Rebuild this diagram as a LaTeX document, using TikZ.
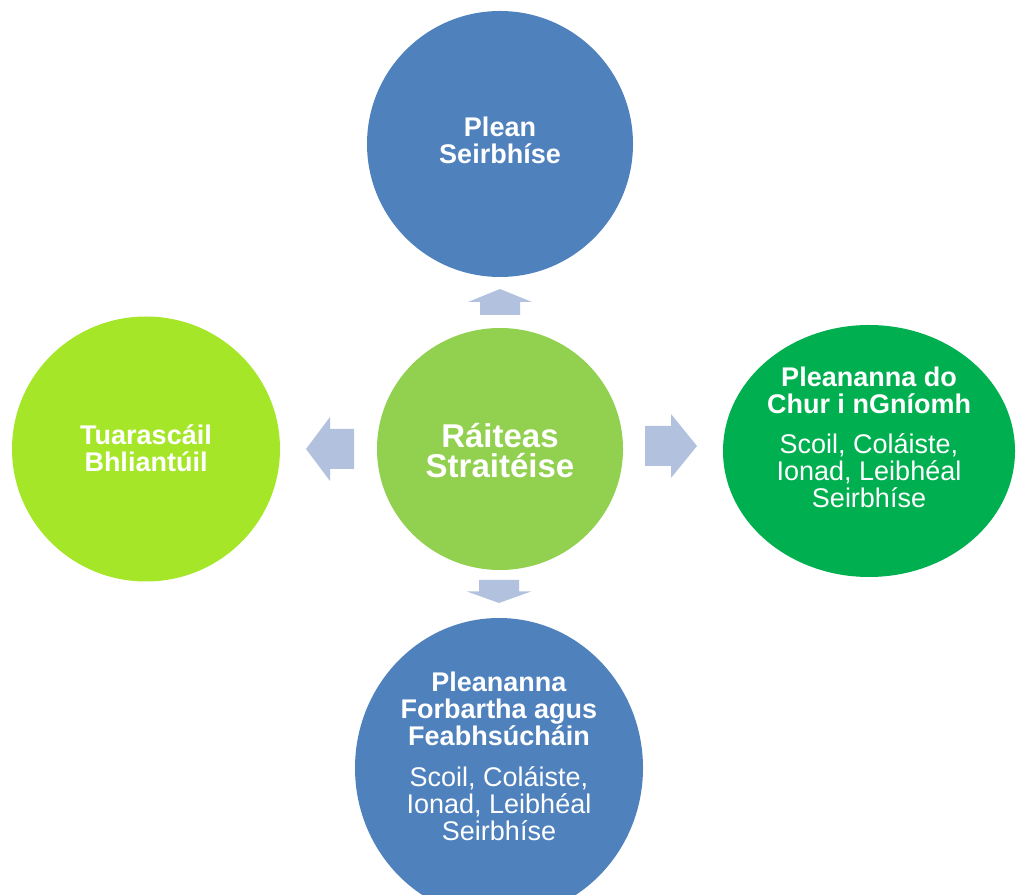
\documentclass[tikz,border=0pt]{standalone}
\usepackage{fontspec}
\setmainfont{Liberation Sans}
\usepackage{tikz}
\usetikzlibrary{shapes.geometric}
\usepackage{xcolor}
\definecolor{cgorm}{RGB}{79,129,189}
\definecolor{cglas}{RGB}{146,208,80}
\definecolor{cliomoid}{RGB}{166,230,41}
\definecolor{cduilleog}{RGB}{0,176,80}
\definecolor{csaighead}{RGB}{178,194,222}

% block arrow: tail point, angle, length
\newcommand{\blocsaighead}[3]{%
  \fill[csaighead,shift={#1},rotate=#2] (0,-20) -- ({#3/2},-20) -- ({#3/2},-32)
    -- (#3,0) -- ({#3/2},32) -- ({#3/2},20) -- (0,20) -- cycle;}

\begin{document}
\begin{tikzpicture}[x=1pt,y=1pt,
  disc/.style={ellipse,inner sep=0pt},
  txt/.style={text=white,align=center,font=\fontsize{27}{27}\selectfont}]
\useasboundingbox (0,0) rectangle (1016,894);
\node[disc,fill=cgorm,minimum width=266,minimum height=266] (plean) at (500,750) {};
\node[disc,fill=cglas,minimum width=246,minimum height=242] (raiteas) at (500,445) {};
\node[disc,fill=cliomoid,minimum width=268,minimum height=265] (tuarascail) at (146,445) {};
\node[disc,fill=cduilleog,minimum width=292,minimum height=252] (gniomh) at (869,443) {};
\node[disc,fill=cgorm,minimum width=288,minimum height=300] (forbairt) at (499,126) {};

\node[txt] (pleanTxt) at ([yshift=4]plean.center) {\textbf{Plean}\\\textbf{Seirbhíse}};
\node[txt,font=\fontsize{33}{30}\selectfont] (raiteasTxt) at ([yshift=-2]raiteas.center)
  {\textbf{Ráiteas}\\\textbf{Straitéise}};
\node[txt] (tuarascailTxt) at ([yshift=1]tuarascail.center) {\textbf{Tuarascáil}\\\textbf{Bhliantúil}};
\node[txt] (gniomhTxt) at ([yshift=14]gniomh.center)
  {\textbf{Pleananna do}\\\textbf{Chur i nGníomh}\\[13pt]Scoil, Coláiste,\\Ionad, Leibhéal\\Seirbhíse};
\node[txt] (forbairtTxt) at ([yshift=12]forbairt.center)
  {\textbf{Pleananna}\\\textbf{Forbartha agus}\\\textbf{Feabhsúcháin}\\[14pt]Scoil, Coláiste,\\Ionad, Leibhéal\\Seirbhíse};

\blocsaighead{(500,579)}{90}{26}
\blocsaighead{(354,445)}{180}{48}
\blocsaighead{(645,448)}{0}{52}
\blocsaighead{(499,314)}{-90}{23}
\end{tikzpicture}
\end{document}
